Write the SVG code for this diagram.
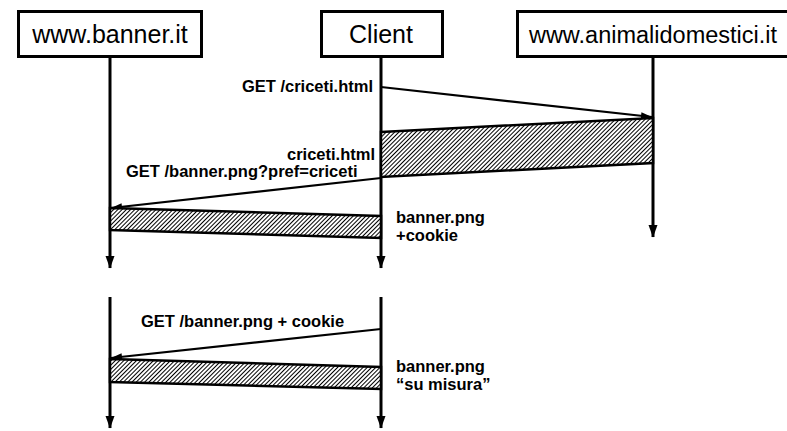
<svg xmlns="http://www.w3.org/2000/svg" width="787" height="431" viewBox="0 0 787 431">
<defs>
<pattern id="hatch" width="3" height="3" patternUnits="userSpaceOnUse" patternTransform="rotate(45)">
<rect width="3" height="3" fill="#fff"/>
<line x1="0.5" y1="0" x2="0.5" y2="3" stroke="#000" stroke-width="1"/>
</pattern>
<marker id="down" markerWidth="13" markerHeight="10" refX="12" refY="5" orient="auto" markerUnits="userSpaceOnUse" viewBox="0 0 13 10">
<path d="M0,0.5 L12.5,5 L0,9.5 Z" fill="#000"/>
</marker>
<marker id="msg" markerWidth="12" markerHeight="8" refX="11" refY="4" orient="auto" markerUnits="userSpaceOnUse" viewBox="0 0 12 8">
<path d="M0,0.5 L11,4 L0,7.5 Z" fill="#000"/>
</marker>
<style>
.box{fill:#fff;stroke:#000;stroke-width:3}
.title{font-family:"Liberation Sans",Arial,sans-serif;font-size:25px;fill:#000;text-anchor:middle}
.life{stroke:#000;stroke-width:3;fill:none}
.msg{stroke:#000;stroke-width:2.2;fill:none}
.band{fill:url(#hatch);stroke:#000;stroke-width:2.5;stroke-linejoin:miter}
.lbl{font-family:"Liberation Sans",Arial,sans-serif;font-size:16.5px;font-weight:bold;fill:#000}
</style>
</defs>
<g id="node-banner">
<rect class="box" x="18.5" y="11.5" width="183" height="45"/>
<text class="title" x="110" y="43">www.banner.it</text>
</g>
<g id="node-client">
<rect class="box" x="321.5" y="11.5" width="121" height="45"/>
<text class="title" x="381" y="43">Client</text>
</g>
<g id="node-animali">
<rect class="box" x="517.5" y="11.5" width="271" height="45"/>
<text class="title" x="653" y="43" style="font-size:23.5px">www.animalidomestici.it</text>
</g>
<g id="connectors">
<line class="life" x1="110" y1="57" x2="110" y2="268" marker-end="url(#down)"/>
<line class="life" x1="381" y1="57" x2="381" y2="268" marker-end="url(#down)"/>
<line class="life" x1="653" y1="57" x2="653" y2="237" marker-end="url(#down)"/>
<line class="life" x1="110" y1="297" x2="110" y2="428" marker-end="url(#down)"/>
<line class="life" x1="381" y1="297" x2="381" y2="428" marker-end="url(#down)"/>
<line class="msg" x1="381" y1="87" x2="652" y2="117" marker-end="url(#msg)"/>
<polygon class="band" points="381,132 653,118 653,163 381,177"/>
<line class="msg" x1="381" y1="178" x2="111" y2="208" marker-end="url(#msg)"/>
<polygon class="band" points="110,208 381,216 381,238 110,230"/>
<line class="msg" x1="381" y1="329" x2="111" y2="358" marker-end="url(#msg)"/>
<polygon class="band" points="110,359 381,367 381,389 110,382"/>
</g>
<g id="labels">
<text class="lbl" x="373" y="92" text-anchor="end">GET /criceti.html</text>
<text class="lbl" x="375" y="160" text-anchor="end">criceti.html</text>
<text class="lbl" x="126" y="177">GET /banner.png?pref=criceti</text>
<text class="lbl" x="396" y="223">banner.png</text>
<text class="lbl" x="396" y="241">+cookie</text>
<text class="lbl" x="396" y="372">banner.png</text>
<text class="lbl" x="396" y="390">“su misura”</text>
<text class="lbl" x="141" y="327">GET /banner.png + cookie</text>
</g>
</svg>
